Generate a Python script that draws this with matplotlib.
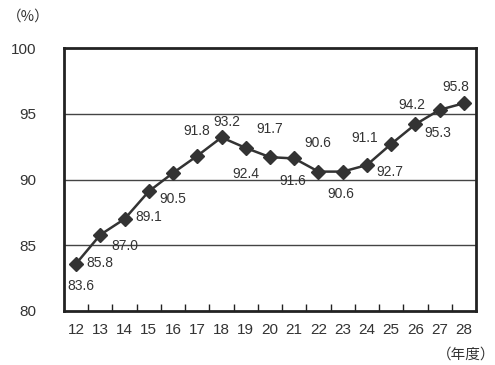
import matplotlib.pyplot as plt
import numpy as np

plt.rcParams['font.family'] = ['Liberation Sans', 'Noto Sans CJK JP']

years = [12, 13, 14, 15, 16, 17, 18, 19, 20, 21, 22, 23, 24, 25, 26, 27, 28]
rates = [83.6, 85.8, 87.0, 89.1, 90.5, 91.8, 93.2, 92.4, 91.7, 91.6, 90.6, 90.6, 91.1, 92.7, 94.2, 95.3, 95.8]

# label offsets in pixels (dx, dy), positive dy is up
label_offsets = [(5, -22), (0, -28), (0, -27), (0, -26), (0, -26), (-1, 25), (5, 15),
                 (0, -26), (0, 28), (-1, -23), (-1, 29), (-2, -22), (-2, 27), (-1, -28),
                 (-4, 19), (-2, -23), (-8, 16)]

fig = plt.figure(figsize=(4.95, 3.65), dpi=100)
ax = fig.add_axes([64 / 495, 1 - 311 / 365, 412 / 495, 263 / 365])

ink = '#333333'
for y in [85, 90, 95]:
    ax.axhline(y, color='#444444', linewidth=1.0, zorder=1)

ax.plot(years, rates, color=ink, linewidth=1.8, marker='D', markersize=7,
        markerfacecolor=ink, markeredgecolor=ink, zorder=3)

for x, v, (dx, dy) in zip(years, rates, label_offsets):
    ax.annotate(f'{v:.1f}', (x, v), xytext=(dx, dy), textcoords='offset pixels',
                ha='center', va='center', fontsize=10, color=ink)

ax.set_xlim(11.5, 28.5)
ax.set_ylim(80, 100)
ax.set_yticks([80, 85, 90, 95, 100])
ax.set_xticks(years)
ax.set_xticks(np.arange(12.5, 28, 1), minor=True)
ax.tick_params(axis='x', which='major', length=0, pad=9, labelsize=11, labelcolor=ink)
ax.tick_params(axis='x', which='minor', direction='in', length=5, width=1, color='#222222')
ax.tick_params(axis='y', length=0, pad=20, labelsize=11, labelcolor=ink)

for s in ax.spines.values():
    s.set_linewidth(2)
    s.set_color('#222222')

cjk = ['Noto Sans CJK JP', 'DejaVu Sans']
fig.text(28 / 495, 1 - 17 / 365, '（%）', ha='center', va='center', fontsize=10.5,
         color=ink, family=cjk)
fig.text(466 / 495, 1 - 355 / 365, '（年度）', ha='center', va='center', fontsize=10.5,
         color=ink, family=cjk)

fig.savefig('out.png', dpi=100)
